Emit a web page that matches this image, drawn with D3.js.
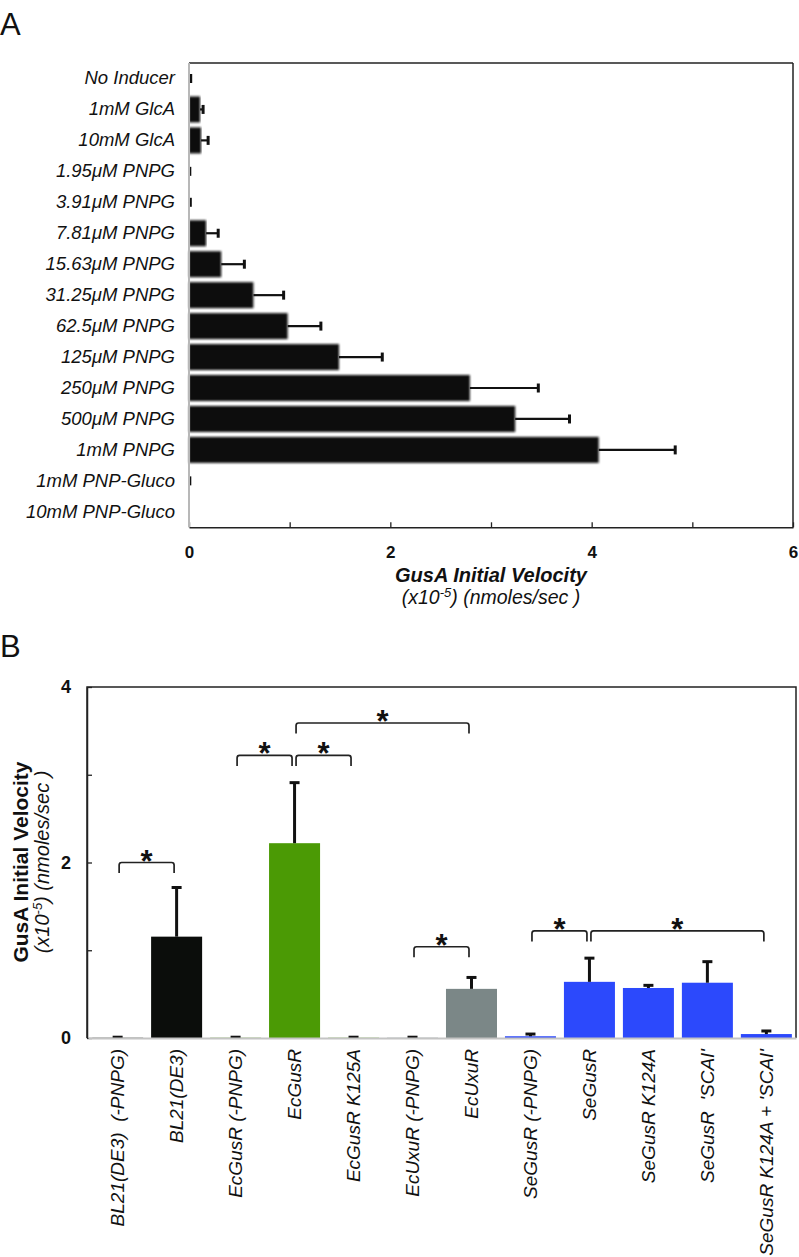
<!DOCTYPE html>
<html><head><meta charset="utf-8">
<script src="https://cdn.jsdelivr.net/npm/d3@7"></script>
<style>
body{margin:0;background:#fff}
svg{display:block}
text{font-family:"Liberation Sans",Arial,Helvetica,sans-serif;fill:#111}
</style>
</head><body>
<svg id="c" width="799" height="1257"></svg>
<script>
// ---------- Panel A data ----------
const aCategories = ["No Inducer","1mM GlcA","10mM GlcA","1.95μM PNPG","3.91μM PNPG","7.81μM PNPG","15.63μM PNPG","31.25μM PNPG","62.5μM PNPG","125μM PNPG","250μM PNPG","500μM PNPG","1mM PNPG","1mM PNP-Gluco","10mM PNP-Gluco"];
const aValues = [0.005,0.11,0.12,0.003,0.005,0.17,0.32,0.64,0.98,1.49,2.79,3.24,4.07,0.003,0];
const aErrors = [0.012,0.03,0.07,0.005,0.008,0.12,0.23,0.30,0.33,0.43,0.68,0.54,0.76,0.005,0];
const aTicks = [0,1,2,3,4,5,6];
const aTickLabels = [0,2,4,6];

// ---------- Panel B data ----------
const bCategories = ["BL21(DE3)  (-PNPG)","BL21(DE3)","EcGusR (-PNPG)","EcGusR","EcGusR K125A","EcUxuR (-PNPG)","EcUxuR","SeGusR (-PNPG)","SeGusR","SeGusR K124A","SeGusR  'SCAI'","SeGusR K124A + 'SCAI'"];
const bValues = [0.003,1.155,0.003,2.22,0.003,0.003,0.56,0.02,0.64,0.57,0.63,0.045];
const bErrors = [0.006,0.56,0.006,0.69,0.006,0.006,0.13,0.025,0.27,0.03,0.24,0.035];
const bColors = ["#0b0d0b","#0b0d0b","#4b9a05","#4b9a05","#4b9a05","#7b8787","#7b8787","#2c49fc","#2c49fc","#2c49fc","#2c49fc","#2c49fc"];
const bTicks = [0,1,2,3,4];
const bTickLabels = [0,2,4];
const bBrackets = [
  {from:0,to:1,level:2.0},
  {from:2,to:3,level:3.22},
  {from:3,to:4,level:3.22},
  {from:3,to:6,level:3.59},
  {from:5,to:6,level:1.04},
  {from:7,to:8,level:1.22},
  {from:8,to:11,level:1.22}
];

const svg = d3.select("#c");
const defs = svg.append("defs");
defs.append("filter").attr("id","soft").attr("x","-5%").attr("y","-20%").attr("width","110%").attr("height","140%")
  .append("feGaussianBlur").attr("stdDeviation",0.9);

// ================= Panel A =================
svg.append("text").attr("x",0).attr("y",35).style("font-size","31px").text("A");

const ax = d3.scaleLinear().domain([0,6]).range([189,793]);
const ay = d3.scaleBand().domain(aCategories).range([63,527.3]).paddingInner(0.16).paddingOuter(0.08);
const gA = svg.append("g");

// bars
gA.selectAll("rect.bar").data(aCategories).join("rect").attr("class","bar")
  .attr("x",ax(0)).attr("y",d=>ay(d))
  .attr("width",(d,i)=>Math.max(0,ax(aValues[i])-ax(0)))
  .attr("height",ay.bandwidth())
  .attr("fill","#111").attr("filter","url(#soft)");
// error bars
aCategories.forEach((c,i)=>{
  if(aErrors[i]<=0) return;
  const cy = ay(c)+ay.bandwidth()/2;
  const x1 = ax(aValues[i]), x2 = ax(aValues[i]+aErrors[i]);
  gA.append("line").attr("x1",x1).attr("x2",x2).attr("y1",cy).attr("y2",cy).attr("stroke","#111").attr("stroke-width",2.2);
  gA.append("line").attr("x1",x2).attr("x2",x2).attr("y1",cy-4.5).attr("y2",cy+4.5).attr("stroke","#111").attr("stroke-width",3);
});

// frame
gA.append("line").attr("x1",ax(0)).attr("x2",ax(6)).attr("y1",63).attr("y2",63).attr("stroke","#222").attr("stroke-width",1.5);
gA.append("line").attr("x1",ax(6)).attr("x2",ax(6)).attr("y1",63).attr("y2",527.3).attr("stroke","#222").attr("stroke-width",1.5);

// bottom axis
const axB = gA.append("g").attr("transform","translate(0,527.3)")
  .call(d3.axisBottom(ax).tickValues(aTicks).tickSizeInner(-5).tickSizeOuter(0).tickPadding(19)
    .tickFormat(d=>aTickLabels.includes(d)?d:""));
axB.select(".domain").attr("stroke","#222").attr("stroke-width",1.5);
axB.selectAll(".tick line").attr("stroke","#222").attr("stroke-width",1.3);
axB.selectAll("text").style("font-size","17px").style("font-weight","bold").attr("fill","#111");

// left axis (category labels)
const axL = gA.append("g").attr("transform",`translate(${ax(0)},0)`)
  .call(d3.axisLeft(ay).tickSize(0).tickPadding(14));
axL.select(".domain").attr("stroke","#b8b8b8").attr("stroke-width",2).attr("d",`M0,63V527.3`);
axL.selectAll("text").style("font-size","18.5px").style("font-style","italic").attr("fill","#111");

// A axis title
gA.append("text").attr("x",491).attr("y",582).attr("text-anchor","middle")
  .style("font-size","20px").style("font-weight","bold").style("font-style","italic").text("GusA Initial Velocity");
const subA = gA.append("text").attr("x",491).attr("y",604).attr("text-anchor","middle")
  .style("font-size","19.5px").style("font-style","italic");
subA.append("tspan").text("(x10");
subA.append("tspan").attr("dy",-7).style("font-size","13px").text("-5");
subA.append("tspan").attr("dy",7).text(") (nmoles/sec )");

// ================= Panel B =================
svg.append("text").attr("x",0).attr("y",657).style("font-size","31px").text("B");

const bx = d3.scaleBand().domain(bCategories).range([88,796]).paddingInner(0.135).paddingOuter(0.07);
const by = d3.scaleLinear().domain([0,4]).range([1038,687]);
const gB = svg.append("g");
const cx = d => bx(d)+bx.bandwidth()/2;

gB.selectAll("rect.bar").data(bCategories).join("rect").attr("class","bar")
  .attr("x",d=>bx(d)).attr("y",(d,i)=>by(bValues[i]))
  .attr("width",bx.bandwidth()).attr("height",(d,i)=>by(0)-by(bValues[i]))
  .attr("fill",(d,i)=>bColors[i]);

bCategories.forEach((c,i)=>{
  const x = cx(c), y1 = by(bValues[i]), y2 = by(bValues[i]+bErrors[i]);
  gB.append("line").attr("x1",x).attr("x2",x).attr("y1",y1).attr("y2",y2).attr("stroke","#111").attr("stroke-width",3);
  gB.append("line").attr("x1",x-5).attr("x2",x+5).attr("y1",y2).attr("y2",y2).attr("stroke","#111").attr("stroke-width",3);
});

// frame
gB.append("path").attr("d",`M87,1038V687H796V1038`).attr("fill","none").attr("stroke","#222").attr("stroke-width",1.5);

// left axis
const byAx = gB.append("g").attr("transform","translate(87,0)")
  .call(d3.axisLeft(by).tickValues(bTicks).tickSizeInner(-5).tickSizeOuter(0).tickPadding(16)
    .tickFormat(d=>bTickLabels.includes(d)?d:""));
byAx.select(".domain").attr("stroke","#222").attr("stroke-width",1.5);
byAx.selectAll(".tick line").attr("stroke","#222").attr("stroke-width",1.3);
byAx.selectAll("text").style("font-size","18px").style("font-weight","bold").attr("fill","#111");

// bottom axis (rotated labels)
const bxAx = gB.append("g").attr("transform","translate(0,1038)")
  .call(d3.axisBottom(bx).tickSize(0).tickPadding(0));
bxAx.select(".domain").attr("stroke","#c4c4c4").attr("stroke-width",2);
bxAx.selectAll("text").attr("transform","rotate(-90)").attr("x",-11).attr("y",0).attr("dy","0.36em")
  .attr("text-anchor","end").style("font-size","19px").style("font-style","italic").style("white-space","pre").attr("fill","#111");

// y title
gB.append("text").attr("transform","translate(28,862) rotate(-90)").attr("text-anchor","middle")
  .style("font-size","21px").style("font-weight","bold").text("GusA Initial Velocity");
const subB = gB.append("text").attr("transform","translate(49,862) rotate(-90)").attr("text-anchor","middle")
  .style("font-size","20px").style("font-style","italic");
subB.append("tspan").text("(x10");
subB.append("tspan").attr("dy",-7).style("font-size","13px").text("-5");
subB.append("tspan").attr("dy",7).text(") (nmoles/sec )");

// significance brackets
bBrackets.forEach(b=>{
  const x1 = cx(bCategories[b.from])+1.5, x2 = cx(bCategories[b.to])-2.5, y = by(b.level), leg = 10.5, r = 2.5;
  gB.append("path")
    .attr("d",`M${x1},${y+leg}V${y+r}Q${x1},${y} ${x1+r},${y}H${x2-r}Q${x2},${y} ${x2},${y+r}V${y+leg}`)
    .attr("fill","none").attr("stroke","#222").attr("stroke-width",1.7);
  gB.append("text").attr("x",(x1+x2)/2).attr("y",y+9).attr("text-anchor","middle")
    .style("font-size","31px").style("font-weight","bold").text("*");
});
</script>
</body></html>
